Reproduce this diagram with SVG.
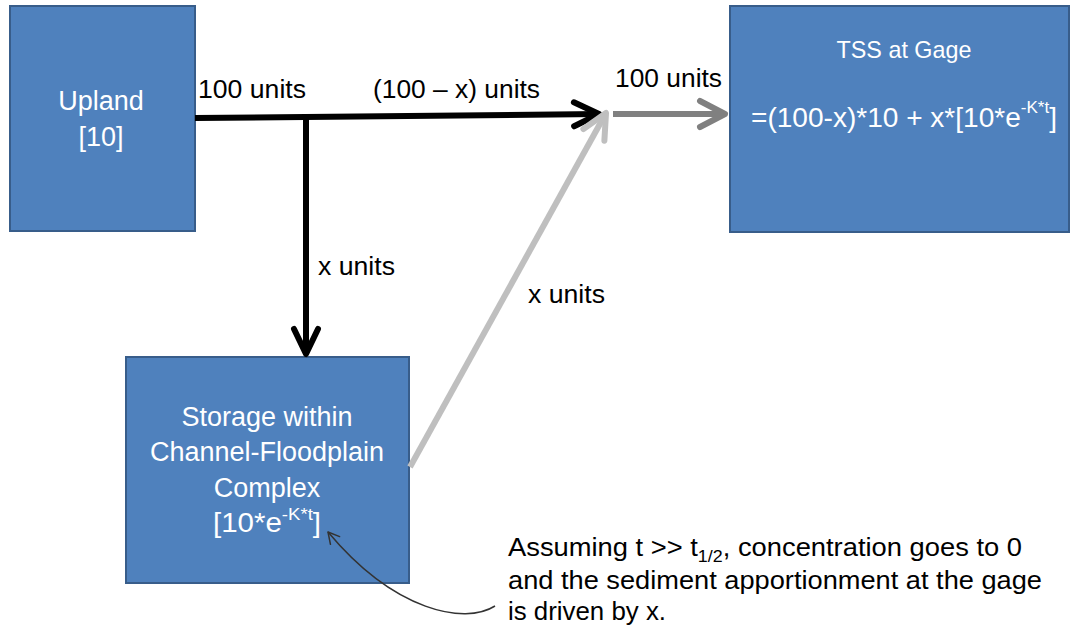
<svg xmlns="http://www.w3.org/2000/svg" width="1072" height="632" viewBox="0 0 1072 632">
<style>
.box{fill:#4f81bd;stroke:#385d8a;stroke-width:2}
.wt{fill:#ffffff;font-family:"Liberation Sans",Arial,sans-serif;text-anchor:middle}
.lb{fill:#000000;font-family:"Liberation Sans",Arial,sans-serif;font-size:26px}
.thick{fill:none;stroke-width:6;stroke-linecap:butt}
</style>
<defs>
<marker id="ah-black" markerUnits="userSpaceOnUse" orient="auto" overflow="visible" refX="0" refY="0" markerWidth="1" markerHeight="1">
<path d="M -25 -12 L 0 0 L -25 12" fill="none" stroke="#000000" stroke-width="6" stroke-linecap="round" stroke-linejoin="round"/>
</marker>
<marker id="ah-gray" markerUnits="userSpaceOnUse" orient="auto" overflow="visible" refX="0" refY="0" markerWidth="1" markerHeight="1">
<path d="M -25 -13 L 0 0 L -25 13" fill="none" stroke="#808080" stroke-width="6" stroke-linecap="round" stroke-linejoin="round"/>
</marker>
<marker id="ah-light" markerUnits="userSpaceOnUse" orient="auto" overflow="visible" refX="0" refY="0" markerWidth="1" markerHeight="1">
<path d="M -25 -12 L 0 0 L -25 12" fill="none" stroke="#bfbfbf" stroke-width="6" stroke-linecap="round" stroke-linejoin="round"/>
</marker>
<marker id="ah-thin" markerUnits="userSpaceOnUse" orient="auto" overflow="visible" refX="0" refY="0" markerWidth="1" markerHeight="1">
<path d="M -11 -6 L 0 0 L -11 6" fill="none" stroke="#333333" stroke-width="1.5" stroke-linecap="round" stroke-linejoin="round"/>
</marker>
</defs>
<rect width="1072" height="632" fill="#ffffff"/>

<g id="upland">
<rect class="box" x="10" y="6" width="185" height="225"/>
<text class="wt" x="101" y="110" font-size="27">Upland</text>
<text class="wt" x="101" y="146" font-size="27">[10]</text>
</g>

<g id="tss-gage">
<rect class="box" x="730" y="6" width="339" height="226"/>
<text class="wt" x="904" y="58" font-size="24" textLength="135" lengthAdjust="spacingAndGlyphs">TSS at Gage</text>
<text class="wt" x="904" y="127" font-size="28" textLength="306" lengthAdjust="spacingAndGlyphs">=(100-x)*10 + x*[10*e<tspan font-size="17" dy="-14">-K*t</tspan><tspan dy="14">]</tspan></text>
</g>

<g id="storage">
<rect class="box" x="126" y="357" width="283" height="226"/>
<text class="wt" x="267" y="426" font-size="27">Storage within</text>
<text class="wt" x="267" y="461" font-size="27">Channel-Floodplain</text>
<text class="wt" x="267" y="497" font-size="27">Complex</text>
<text class="wt" x="267" y="532" font-size="27" textLength="108" lengthAdjust="spacingAndGlyphs">[10*e<tspan font-size="17" dy="-12">-K*t</tspan><tspan dy="12">]</tspan></text>
</g>

<g id="connectors">
<line class="thick" x1="195" y1="118" x2="599" y2="114" stroke="#000000" marker-end="url(#ah-black)"/>
<line class="thick" x1="306" y1="118" x2="306" y2="354" stroke="#000000" marker-end="url(#ah-black)"/>
<line class="thick" x1="613" y1="114" x2="725" y2="114" stroke="#808080" marker-end="url(#ah-gray)"/>
<line class="thick" x1="410" y1="467" x2="606" y2="113" stroke="#bfbfbf" marker-end="url(#ah-light)"/>
<path d="M 495 606 C 465 625 395 612 328 532" fill="none" stroke="#333333" stroke-width="1.5" marker-end="url(#ah-thin)"/>
</g>

<g id="labels">
<text class="lb" x="198" y="98" textLength="108" lengthAdjust="spacingAndGlyphs">100 units</text>
<text class="lb" x="373" y="98" textLength="167" lengthAdjust="spacingAndGlyphs">(100 – x) units</text>
<text class="lb" x="615" y="87" textLength="107" lengthAdjust="spacingAndGlyphs">100 units</text>
<text class="lb" x="318" y="275" textLength="77" lengthAdjust="spacingAndGlyphs">x units</text>
<text class="lb" x="528" y="303" textLength="77" lengthAdjust="spacingAndGlyphs">x units</text>
</g>

<g id="note">
<text class="lb" x="508" y="556" font-size="25" textLength="514" lengthAdjust="spacingAndGlyphs">Assuming t &gt;&gt; t<tspan font-size="17" dy="6">1/2</tspan><tspan dy="-6">, concentration goes to 0</tspan></text>
<text class="lb" x="508" y="589" font-size="25" textLength="534" lengthAdjust="spacingAndGlyphs">and the sediment apportionment at the gage</text>
<text class="lb" x="508" y="620" font-size="25" textLength="158" lengthAdjust="spacingAndGlyphs">is driven by x.</text>
</g>
</svg>
